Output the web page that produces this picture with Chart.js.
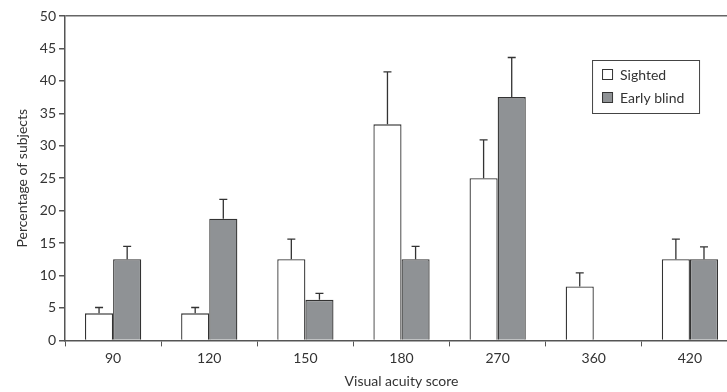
<!DOCTYPE html>
<html>
<head>
<meta charset="utf-8">
<script src="https://cdn.jsdelivr.net/npm/chart.js@4"></script>
<style>
  html, body { margin: 0; padding: 0; background: #fff; overflow: hidden; }
  #wrap { width: 742px; height: 392px; }
</style>
</head>
<body>
<div id="wrap"><canvas id="chart"></canvas></div>
<script>
const scores = ['90', '120', '150', '180', '270', '360', '420'];
const sighted = [4.17, 4.17, 12.5, 33.3, 25.0, 8.3, 12.5];
const sightedErr = [0.9, 0.9, 3.1, 8.1, 5.9, 2.1, 3.1];
const earlyBlind = [12.5, 18.75, 6.25, 12.5, 37.5, null, 12.5];
const earlyBlindErr = [2.0, 3.0, 1.0, 2.0, 6.1, null, 1.9];

const FONT = 'Lato, "Open Sans", sans-serif';
const axisColor = '#555';

// vertical error bars, upward only
const errorBars = {
    id: 'errorBars',
    afterDatasetsDraw(chart) {
        const c = chart.ctx;
        const yScale = chart.scales.y;
        const errs = [sightedErr, earlyBlindErr];
        c.save();
        c.strokeStyle = '#333';
        c.lineWidth = 1.3;
        chart.data.datasets.forEach((ds, di) => {
            const meta = chart.getDatasetMeta(di);
            meta.data.forEach((bar, i) => {
                const v = ds.data[i];
                const e = errs[di][i];
                if (v == null || e == null) return;
                const top = yScale.getPixelForValue(v + e);
                c.beginPath();
                c.moveTo(bar.x, bar.y);
                c.lineTo(bar.x, top);
                c.moveTo(bar.x - 4, top);
                c.lineTo(bar.x + 4, top);
                c.stroke();
            });
        });
        c.restore();
    }
};

// boxed legend in the upper right
const boxLegend = {
    id: 'boxLegend',
    afterDraw(chart) {
        const c = chart.ctx;
        const area = chart.chartArea;
        const x = area.left + 527, y = area.top + 44;
        const w = 107, h = 53;
        c.save();
        c.strokeStyle = '#444';
        c.lineWidth = 1;
        c.strokeRect(x + 0.5, y + 0.5, w, h);
        chart.data.datasets.forEach((ds, i) => {
            const ry = y + 14 + i * 23;
            c.fillStyle = ds.backgroundColor;
            c.fillRect(x + 10, ry - 5, 10, 10);
            c.strokeStyle = '#333';
            c.strokeRect(x + 10.5, ry - 4.5, 10, 10);
            c.fillStyle = '#333';
            c.font = '14px ' + FONT;
            c.textBaseline = 'middle';
            c.fillText(ds.label, x + 28, ry + 1);
        });
        c.restore();
    }
};

new Chart(document.getElementById('chart'), {
    type: 'bar',
    data: {
        labels: scores,
        datasets: [
            {
                label: 'Sighted',
                data: sighted,
                backgroundColor: '#ffffff',
                borderColor: '#333',
                borderWidth: 1.3
            },
            {
                label: 'Early blind',
                data: earlyBlind,
                backgroundColor: '#8f9295',
                borderColor: '#333',
                borderWidth: 1.3
            }
        ]
    },
    options: {
        responsive: true,
        maintainAspectRatio: false,
        animation: false,
        layout: { padding: { top: 16, right: 4, left: 14, bottom: 2 } },
        datasets: {
            bar: { categoryPercentage: 0.585, barPercentage: 1 }
        },
        plugins: {
            legend: { display: false },
            tooltip: { enabled: false }
        },
        scales: {
            x: {
                grid: {
                    offset: true,
                    drawOnChartArea: false,
                    tickLength: 6,
                    tickColor: axisColor
                },
                border: { color: axisColor, width: 1.5 },
                ticks: { color: '#333', font: { family: FONT, size: 14 }, padding: 4 },
                title: {
                    display: true,
                    text: 'Visual acuity score',
                    color: '#333',
                    font: { family: FONT, size: 14 },
                    padding: { top: 2, bottom: 0 }
                }
            },
            y: {
                min: 0,
                max: 50,
                ticks: { stepSize: 5, color: '#333', font: { family: FONT, size: 14 }, padding: 3 },
                grid: {
                    tickLength: 6,
                    tickColor: axisColor,
                    lineWidth: 1.5,
                    color: (ctx) => ctx.tick && ctx.tick.value === 50 ? '#666' : 'transparent'
                },
                border: { color: axisColor, width: 1.5 },
                title: {
                    display: true,
                    text: 'Percentage of subjects',
                    color: '#333',
                    font: { family: FONT, size: 14 },
                    padding: { top: 0, bottom: 6 }
                }
            }
        }
    },
    plugins: [errorBars, boxLegend]
});
</script>
</body>
</html>
